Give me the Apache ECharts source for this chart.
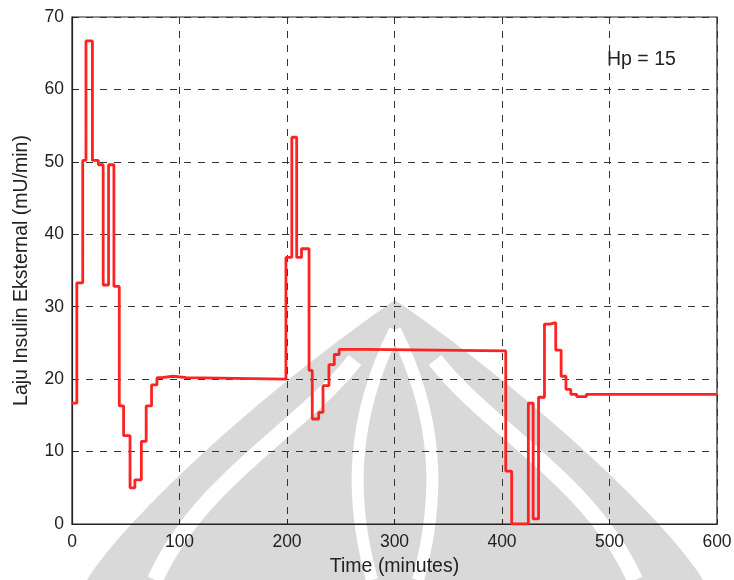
<!DOCTYPE html>
<html>
<head>
<meta charset="utf-8">
<script src="https://cdn.jsdelivr.net/npm/echarts@6/dist/echarts.min.js"></script>
<style>
html,body{margin:0;padding:0;background:#fff;}
#c{width:734px;height:580px;}
</style>
</head>
<body>
<div id="c"></div>
<script>
// Step times (minutes) where a new insulin rate begins
var times = [0, 4.5, 10, 13, 19, 24.5, 29, 34, 39, 44, 48, 54, 58.5, 64.5, 69, 74, 79, 83.5, 94, 106.5,
             199, 204.5, 209, 213.5, 220.5, 223.5, 229.5, 233.5, 239, 244, 248.5, 273.5,
             403.5, 409, 424.5, 429, 434, 439.5, 444.5, 450, 455, 459.5, 464, 469.5, 478.5, 600];
// Insulin rate (mU/min) held from each time until the next
var rates = [16.7, 33.3, 50.2, 66.7, 50.2, 49.6, 33.0, 49.6, 32.8, 16.3, 12.2, 5.0, 6.1, 11.4, 16.3, 19.2, 20.2, 20.4, 20.2, 20.0,
             36.8, 53.4, 36.8, 38.0, 21.2, 14.5, 15.4, 19.1, 22.0, 23.4, 24.1, 23.9,
             7.3, 0.0, 16.7, 0.7, 17.5, 27.6, 27.8, 24.0, 20.4, 18.6, 17.9, 17.6, 17.9, 17.9];
var xTicks = [0, 100, 200, 300, 400, 500, 600];
var yTicks = [0, 10, 20, 30, 40, 50, 60, 70];
var xTitle = 'Time (minutes)';
var yTitle = 'Laju Insulin Eksternal (mU/min)';
var note = 'Hp = 15';

// zero-order-hold: each rate held until the next time
var data = [];
for (var i = 0; i < times.length; i++) {
  if (i > 0) data.push([times[i], rates[i - 1]]);
  data.push([times[i], rates[i]]);
}
var font = "'Liberation Sans', Arial, sans-serif";
var wm = '#d9d9d9';

// background watermark (decorative), sampled cubic outlines
function cubic(p0, p1, p2, p3, n) {
  var out = [];
  for (var k = 0; k <= n; k++) {
    var t = k / n, u = 1 - t;
    out.push([u*u*u*p0[0] + 3*u*u*t*p1[0] + 3*u*t*t*p2[0] + t*t*t*p3[0],
              u*u*u*p0[1] + 3*u*u*t*p1[1] + 3*u*t*t*p2[1] + t*t*t*p3[1]]);
  }
  return out;
}
var domePts = cubic([87,580],[120,525],[250,400],[395,300],30).concat(cubic([395,300],[540,400],[670,525],[703,580],30));
function curve(a, b, c, d, w, z) {
  return { type: 'bezierCurve', z: z, silent: true,
    shape: { x1: a[0], y1: a[1], cpx1: b[0], cpy1: b[1], cpx2: c[0], cpy2: c[1], x2: d[0], y2: d[1] },
    style: { stroke: '#ffffff', lineWidth: w, fill: 'none' } };
}

var chart = echarts.init(document.getElementById('c'));
chart.setOption({
  animation: false,
  backgroundColor: '#ffffff',
  grid: { left: 72, right: 17, top: 17, bottom: 56, outerBoundsMode: 'none', containLabel: false,
          show: true, borderColor: '#222', borderWidth: 1.2, backgroundColor: 'transparent' },
  xAxis: {
    type: 'value', min: xTicks[0], max: xTicks[xTicks.length - 1], interval: 100,
    name: xTitle, nameLocation: 'middle', nameGap: 33,
    nameTextStyle: { fontFamily: font, fontSize: 19.5, color: '#222' },
    axisLine: { show: true, lineStyle: { color: '#222', width: 1.2 } },
    axisTick: { show: true, inside: true, length: 5, lineStyle: { color: '#222' } },
    axisLabel: { fontFamily: font, fontSize: 17.5, color: '#222', margin: 9, showMinLabel: true, showMaxLabel: true },
    splitLine: { show: true, lineStyle: { color: '#333', type: [7, 7], width: 1 } }
  },
  yAxis: {
    type: 'value', min: yTicks[0], max: yTicks[yTicks.length - 1], interval: 10,
    name: yTitle, nameLocation: 'middle', nameGap: 40, nameRotate: 90,
    nameTextStyle: { fontFamily: font, fontSize: 19.5, color: '#222' },
    axisLine: { show: true, lineStyle: { color: '#222', width: 1.2 } },
    axisTick: { show: true, inside: true, length: 5, lineStyle: { color: '#222' } },
    axisLabel: { fontFamily: font, fontSize: 17.5, color: '#222', margin: 8 },
    splitLine: { show: true, lineStyle: { color: '#333', type: [7, 7], width: 1 } }
  },
  graphic: [
    { type: 'polygon', z: -10, silent: true, shape: { points: domePts }, style: { fill: wm } },
    curve([155,580],[200,480],[300,430],[355,360], 16, -9),
    curve([635,580],[590,480],[490,430],[435,360], 16, -9),
    curve([395,330],[350,420],[350,500],[372,580], 12, -9),
    curve([395,330],[440,420],[440,500],[418,580], 12, -9),
    { type: 'text', left: 607, top: 50, style: { text: note, fontFamily: font, fontSize: 19.5, fill: '#222' } }
  ],
  series: [{
    type: 'line', data: data, symbol: 'none',
    lineStyle: { color: '#ff2222', width: 2.8 }
  }]
});
</script>
</body>
</html>
